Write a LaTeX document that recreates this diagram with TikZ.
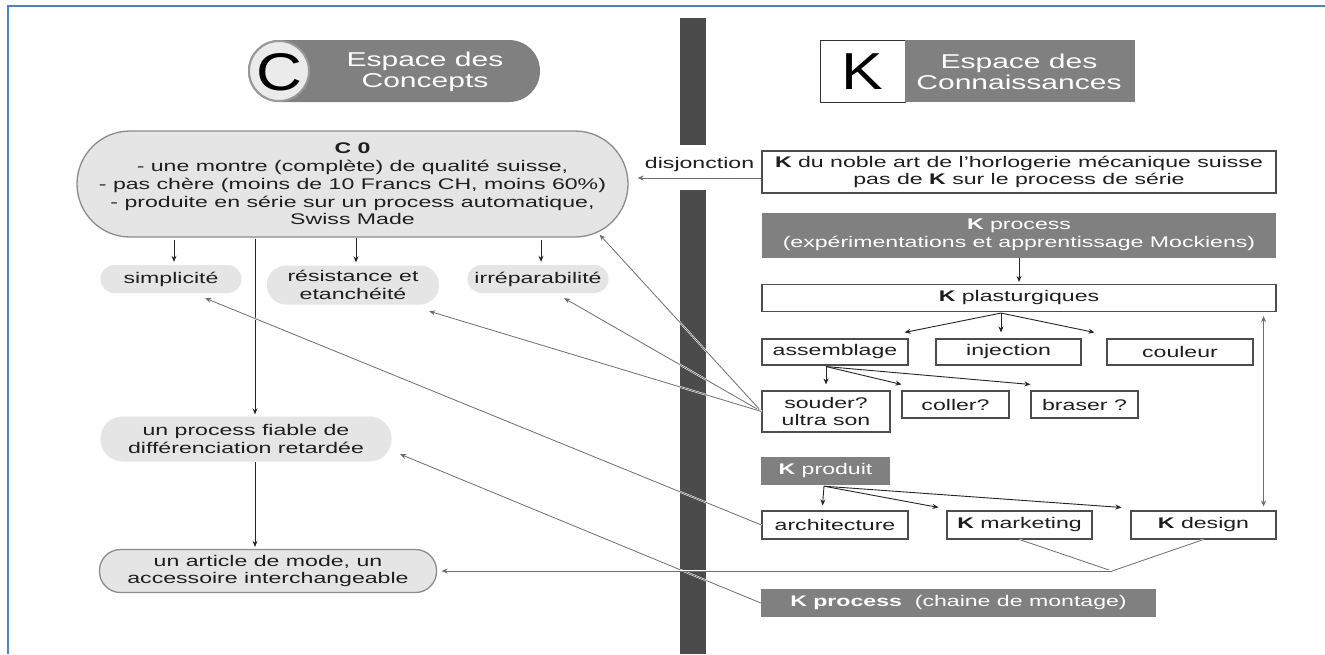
\documentclass[tikz,border=0pt]{standalone}
\usepackage{fontspec}
\setmainfont[FakeStretch=1.5]{Liberation Sans}
\newfontfamily\bigfont[FakeStretch=1.2]{Liberation Sans}
\usetikzlibrary{arrows.meta,calc}
\definecolor{frameblue}{RGB}{79,129,189}
\definecolor{bargray}{RGB}{75,75,75}
\definecolor{boxgray}{RGB}{128,128,128}
\definecolor{pillgray}{RGB}{229,229,229}
\definecolor{txt}{RGB}{30,30,30}
\definecolor{linegray}{RGB}{110,110,110}
\begin{document}
\begin{tikzpicture}[x=1pt,y=-1pt,
  every node/.style={font=\fontsize{15.4}{17.7}\selectfont, text=txt, inner sep=0pt, align=center},
  kbox/.style={draw=black!70, line width=1.1pt, fill=white},
  gbox/.style={fill=boxgray, text=white},
  pill/.style={fill=pillgray, rounded corners=#1},
  bpill/.style={fill=pillgray, draw=black!45, line width=1.3pt, rounded corners=#1},
  arr/.style={draw=black!85, line width=0.9pt, -{Stealth[length=6pt,width=5pt]}},
  longarr/.style={draw=linegray, line width=0.8pt, -{Stealth[length=6pt,width=5pt]},
     preaction={draw=white, line width=1.8pt, -}},
  plain/.style={draw=linegray, line width=0.8pt, preaction={draw=white, line width=1.8pt}},
  hdrtext/.style={text=white, font=\fontsize{20}{21}\selectfont}
]
\useasboundingbox (0,0) rectangle (1325,654);
\fill[white] (0,0) rectangle (1325,654);
% frame
\draw[frameblue, line width=2pt] (8,654) -- (8,6) -- (1325,6);
% central bar
\fill[bargray] (680,18) rectangle (706,145);
\fill[bargray] (680,190) rectangle (706,654);

% headers
\node[fill=boxgray, rounded corners=31pt, minimum width=292, minimum height=62] (hdrC) at (394,71) {};
\node[circle, fill=black!8, draw=black!40, line width=2pt, minimum size=60] (circC) at (279,71) {};
\node[font=\bigfont\fontsize{53}{53}\selectfont, text=black] (letC) at (279,72) {C};
\node[hdrtext] (hdrCtext) at (425,72) {Espace des\\Concepts};

\node[fill=white, draw=black!80, line width=1pt, minimum width=85, minimum height=62] (boxK) at (862.5,71) {};
\node[fill=boxgray, minimum width=230, minimum height=62] (hdrK) at (1020,71) {};
\node[font=\bigfont\fontsize{52}{52}\selectfont, text=black] (letK) at (862.5,72) {K};
\node[hdrtext] (hdrKtext) at (1019,72) {Espace des\\Connaissances};

% concept side
\node[bpill=53pt, minimum width=551, minimum height=106] (c0) at (352.5,184)
  {\textbf{C 0}\\- une montre (complète) de qualité suisse,\\- pas chère (moins de 10 Francs CH, moins 60\%)\\- produite en série sur un process automatique,\\Swiss Made};
\node[pill=14pt, minimum width=141, minimum height=28] (simp) at (171,279) {simplicité};
\node[pill=19pt, minimum width=172, minimum height=39] (resist) at (353,285) {résistance et\\etanchéité};
\node[pill=14pt, minimum width=141, minimum height=28] (irrep) at (538,279) {irréparabilité};
\node[pill=22pt, minimum width=291, minimum height=45] (proc) at (246,439) {un process fiable de\\différenciation retardée};
\node[bpill=21pt, minimum width=337, minimum height=43] (article) at (268,571) {un article de mode, un\\accessoire interchangeable};

% knowledge side
\node[kbox, minimum width=514, minimum height=42] (knoble) at (1019,172)
  {\textbf{K} du noble art de l'horlogerie mécanique suisse\\pas de \textbf{K} sur le process de série};
\node[gbox, minimum width=514, minimum height=45] (kproc) at (1019,235)
  {\textbf{K} process\\(expérimentations et apprentissage Mockiens)};
\node[kbox, minimum width=514, minimum height=27] (kplast) at (1019,298) {\textbf{K} plasturgiques};
\node[kbox, minimum width=146, minimum height=26] (assem) at (835,352) {assemblage};
\node[kbox, minimum width=145, minimum height=26] (inject) at (1008.5,352) {injection};
\node[kbox, minimum width=146, minimum height=26] (coul) at (1180,352) {couleur};
\node[kbox, minimum width=128, minimum height=41] (souder) at (826,411.5) {souder?\\ultra son};
\node[kbox, minimum width=107, minimum height=27] (coller) at (955.5,404.5) {coller?};
\node[kbox, minimum width=107, minimum height=27] (braser) at (1084.5,404.5) {braser ?};
\node[gbox, minimum width=129, minimum height=28] (kprod) at (825.5,471) {\textbf{K} produit};
\node[kbox, minimum width=146, minimum height=28] (archi) at (835,525) {architecture};
\node[kbox, minimum width=145, minimum height=28] (kmark) at (1019.5,525) {\textbf{K} marketing};
\node[kbox, minimum width=145, minimum height=28] (kdes) at (1203.5,525) {\textbf{K} design};
\node[gbox, minimum width=395, minimum height=28] (kchain) at (958.5,603) {\textbf{K process}\ \ (chaine de montage)};

% C-side arrows
\draw[arr] ($(simp.north |- c0.south)+(3,2)$) -- ($(simp.north)+(3,-3)$);
\draw[arr] ($(resist.north |- c0.south)+(3,0)$) -- ($(resist.north)+(3,-3)$);
\draw[arr] ($(irrep.north |- c0.south)+(3,2)$) -- ($(irrep.north)+(3,-3)$);
\draw[arr] ($(proc.north |- c0.south)+(9,1)$) -- ($(proc.north)+(9,-2)$);
\draw[arr] ($(proc.south)+(9,0)$) -- ($(article.north)+(-13,-2)$);
\draw[longarr] ($(knoble.west)+(0,6)$) -- node[midway, above=5pt, fill=white, inner sep=1pt] (disj) {disjonction} ($(c0.east)+(9,-6)$);

% K-side arrows
\draw[arr] (kproc.south) -- ($(kplast.north)+(0,-2)$);
\draw[arr] ($(kplast.south)+(-18,1)$) -- ($(assem.north east)+(-4,-6)$);
\draw[arr] ($(kplast.south)+(-18,1)$) -- ($(inject.north)+(-7.5,-6)$);
\draw[arr] ($(kplast.south)+(-18,1)$) -- ($(coul.north west)+(-12,-6)$);
\draw[arr] ($(assem.south)+(-9,1)$) -- ($(souder.north)+(0,-6)$);
\draw[arr] ($(assem.south)+(-9,1)$) -- ($(coller.north west)+(0,-6)$);
\draw[arr] ($(assem.south)+(-9,1)$) -- ($(braser.north west)+(0,-6)$);
\draw[arr] ($(kprod.south)+(-1.5,1)$) -- ($(archi.north)+(-12.5,-5)$);
\draw[arr] ($(kprod.south)+(-1.5,1)$) -- ($(kmark.north west)+(-8,-3)$);
\draw[arr] ($(kprod.south)+(-1.5,1)$) -- ($(kdes.north west)+(-9,-3)$);
\draw[draw=linegray, line width=0.8pt, {Stealth[length=6pt,width=5pt]}-{Stealth[length=6pt,width=5pt]}]
  ($(kplast.south east)+(-13,4)$) -- ($(kdes.north east)+(-13,-4)$);

% cross links
\draw[longarr] (souder.west) -- ($(c0.south east)+(-29,-3)$);
\draw[longarr] (souder.west) -- ($(irrep.south east)+(-44.5,5)$);
\draw[longarr] (souder.west) -- ($(resist.south east)+(-10,6.5)$);
\draw[longarr] (archi.west) -- ($(simp.south east)+(-36.5,5)$);
\draw[longarr] (kchain.west) -- ($(proc.south east)+(8.5,-7.5)$);
\coordinate (vjoin) at (1112,571);
\draw[plain] (kmark.south) -- (vjoin) -- (kdes.south);
\draw[longarr] (vjoin) -- ($(article.east)+(4.5,0)$);
\end{tikzpicture}
\end{document}
